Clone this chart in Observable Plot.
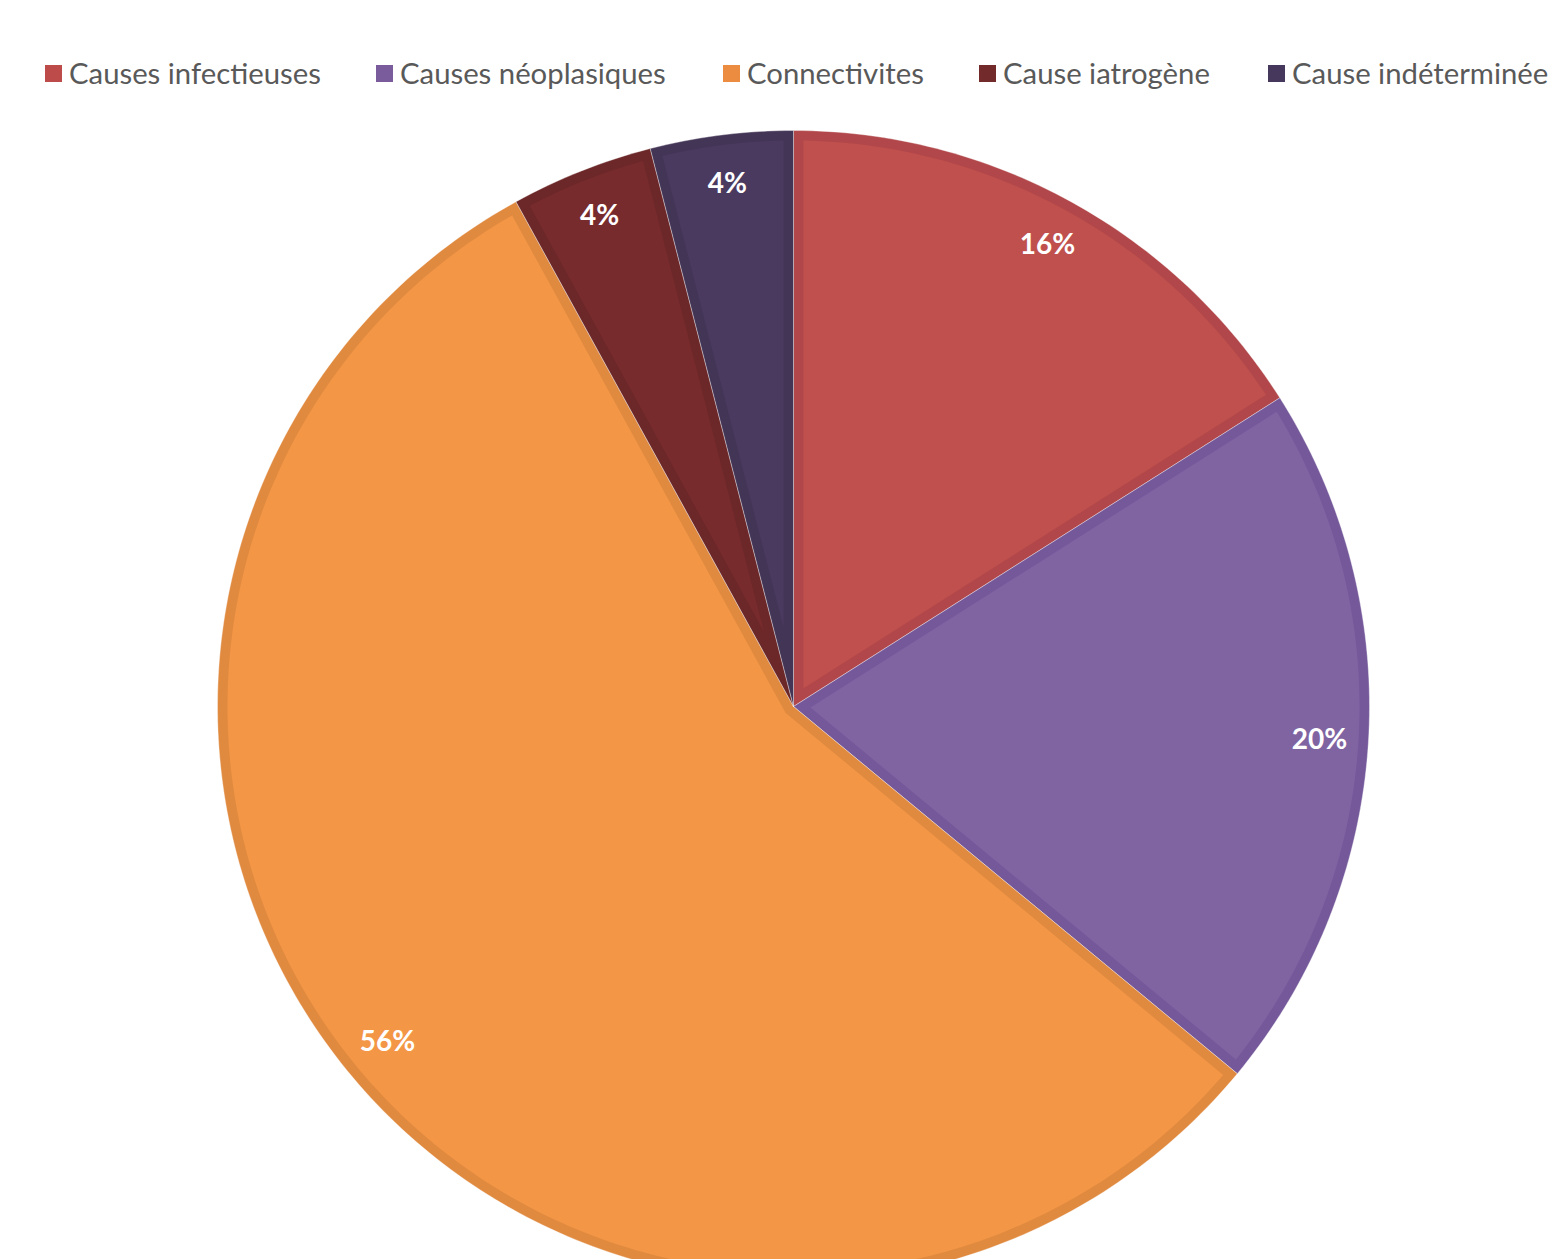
<!DOCTYPE html>
<html><head><meta charset="utf-8">
<script src="https://cdn.jsdelivr.net/npm/d3@7"></script>
<script src="https://cdn.jsdelivr.net/npm/@observablehq/plot@0.6"></script>
<style>
html,body{margin:0;padding:0;background:#fff;overflow:hidden;}
#legend{position:relative;height:110px;font-family:Lato,"Open Sans",sans-serif;font-size:29.3px;color:#595959;}
.item{position:absolute;top:57px;display:flex;align-items:center;white-space:nowrap;line-height:32px;}
.sw{width:17px;height:17px;margin-right:7px;}
#chart svg{display:block;}
</style></head>
<body>
<div id="legend"></div>
<div id="chart"></div>
<script>
const categories = ["Causes infectieuses","Causes néoplasiques","Connectivites","Cause iatrogène","Cause indéterminée"];
const values = [16, 20, 56, 4, 4];
const labels = ["16%","20%","56%","4%","4%"];
const fillColors = ["#C0504D","#8064A2","#F39646","#772B2C","#4B3A60"];
const borderColors = ["#B1474A","#74589A","#E08A40","#6C2728","#433556"];
const legendColors = ["#BC4B49","#7A5C9C","#EB8C40","#732A2A","#46375C"];
const legendLeft = [45, 376, 723, 979, 1268];

// legend
const leg = document.getElementById("legend");
categories.forEach((c,i)=>{
  const d = document.createElement("div");
  d.className="item"; d.style.left = legendLeft[i]+"px";
  d.innerHTML = `<div class="sw" style="background:${legendColors[i]}"></div><span>${c}</span>`;
  leg.appendChild(d);
});

// geometry (in data units, radius 1)
const R = 576;             // pixel radius used for scale ranges
const inset = 10 / R;      // inner border width in data units
const total = d3.sum(values);
const pt = (a, r) => [Math.sin(a) * r, Math.cos(a) * r];
let cum = 0;
const outer = [], inner = [], labelRows = [];
values.forEach((v, i) => {
  const a0 = cum / total * 2 * Math.PI;
  cum += v;
  const a1 = cum / total * 2 * Math.PI;
  const th = a1 - a0, mid = (a0 + a1) / 2;
  const n = Math.max(8, Math.ceil(th / (2*Math.PI) * 400));
  outer.push({i, x:0, y:0});
  for (let k = 0; k <= n; k++) { const [x,y] = pt(a0 + th*k/n, 1); outer.push({i, x, y}); }
  outer.push({i, x:0, y:0});
  const apex = pt(mid, inset / Math.sin(th/2));
  const ri = 1 - inset, da = Math.asin(inset / ri);
  inner.push({i, x:apex[0], y:apex[1]});
  for (let k = 0; k <= n; k++) { const [x,y] = pt(a0 + da + (th - 2*da)*k/n, ri); inner.push({i, x, y}); }
  inner.push({i, x:apex[0], y:apex[1]});
  const [lx, ly] = pt(mid, 0.915);
  labelRows.push({label: labels[i], x: lx, y: ly});
});

const marks = [];
values.forEach((v, i) => {
  marks.push(Plot.line(outer.filter(d => d.i === i), {x:"x", y:"y", fill: borderColors[i], stroke:"#ffffff", strokeWidth:1, strokeOpacity:0.35, curve:"linear"}));
});
values.forEach((v, i) => {
  marks.push(Plot.line(inner.filter(d => d.i === i), {x:"x", y:"y", fill: fillColors[i], stroke:"none", curve:"linear"}));
});
marks.push(Plot.text(labelRows, {x:"x", y:"y", text:"label", fill:"white", fontSize:28, fontWeight:"bold", fontFamily:"Lato, 'Open Sans', sans-serif"}));

const cy = 596;
const chart = Plot.plot({
  width: 1551, height: 1149,
  margin: 0,
  x: {domain:[-1,1], range:[793 - R, 793 + R], axis: null},
  y: {domain:[-1,1], range:[cy + R, cy - R], axis: null},
  marks
});
document.getElementById("chart").appendChild(chart);
</script>
</body></html>
